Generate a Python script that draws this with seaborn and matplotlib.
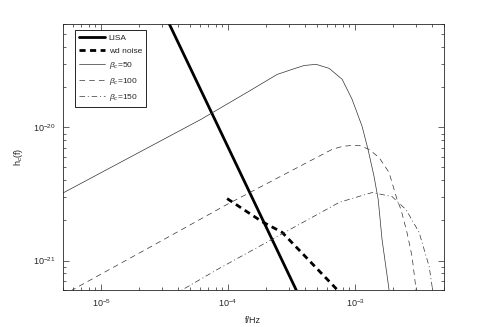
import numpy as np
import seaborn as sns
import matplotlib.pyplot as plt
from matplotlib.ticker import NullFormatter

# ------------------------------- DONNEES -------------------------------
# sensibilite LISA (droite en f^-2)
lisa_f = [1.0e-5, 1.0e-3]
lisa_h = [7.1e-19, 7.1e-23]

# bruit des naines blanches
wd_f = [9.82e-5, 1.85e-4, 2.66e-4, 4.35e-4, 7.21e-4]
wd_h = [2.92e-21, 1.96e-21, 1.63e-21, 1.0e-21, 6.05e-22]

# beta_c = 50
b50_f = [4.93e-6, 6.12e-5, 1.46e-4, 2.43e-4, 3.19e-4, 3.97e-4, 4.93e-4, 6.24e-4,
         7.91e-4, 9.46e-4, 1.135e-3, 1.264e-3, 1.41e-3, 1.52e-3, 1.63e-3, 1.85e-3, 1.95e-3]
b50_h = [3.19e-21, 1.15e-20, 1.87e-20, 2.50e-20, 2.73e-20, 2.92e-20, 2.98e-20, 2.78e-20,
         2.30e-20, 1.63e-20, 1.02e-20, 6.84e-21, 4.28e-21, 2.88e-21, 1.44e-21, 6.05e-22, 4.5e-22]

# beta_c = 100
b100_f = [4.93e-6, 2.39e-5, 9.82e-5, 6.59e-4, 7.91e-4, 9.46e-4, 1.074e-3, 1.288e-3,
          1.545e-3, 1.85e-3, 2.14e-3, 2.30e-3, 2.56e-3, 2.81e-3, 3.02e-3, 3.1e-3]
b100_h = [5.45e-22, 1.25e-21, 2.64e-21, 6.84e-21, 7.20e-21, 7.33e-21, 7.33e-21, 6.84e-21,
          5.94e-21, 4.59e-21, 2.88e-21, 2.41e-21, 1.63e-21, 1.07e-21, 6.05e-22, 5.0e-22]

# beta_c = 150
b150_f = [3.76e-5, 8.49e-5, 7.48e-4, 8.97e-4, 1.36e-3, 1.95e-3, 2.52e-3, 3.19e-3,
          3.83e-3, 4.04e-3, 4.1e-3]
b150_h = [5.55e-22, 8.71e-22, 2.73e-21, 2.88e-21, 3.24e-21, 3.03e-21, 2.41e-21, 1.63e-21,
          9.01e-22, 6.38e-22, 5.5e-22]

x_ticks = [1e-5, 1e-4, 1e-3]
y_ticks = [1e-21, 1e-20]

# ------------------------------- AFFICHAGE -----------------------------
sns.set_style("ticks")
plt.rcParams['font.family'] = ['Liberation Sans', 'DejaVu Sans']
plt.rcParams['mathtext.fontset'] = 'custom'
plt.rcParams['mathtext.rm'] = 'Liberation Sans'
plt.rcParams['mathtext.it'] = 'Liberation Sans:italic'

fig = plt.figure(figsize=(4.91, 3.27), dpi=100)
ax = fig.add_axes([0.128, 0.113, 0.776, 0.814])

sns.lineplot(x=lisa_f, y=lisa_h, ax=ax, color='black', linewidth=2.0, label='LISA')
sns.lineplot(x=wd_f, y=wd_h, ax=ax, color='black', linewidth=2.0, linestyle=(0, (2.2, 1.6)), label='wd noise')
sns.lineplot(x=b50_f, y=b50_h, ax=ax, color='#333333', linewidth=0.5, label=r'$\beta_c$=50')
sns.lineplot(x=b100_f, y=b100_h, ax=ax, color='#333333', linewidth=0.5, linestyle=(0, (8, 6)), label=r'$\beta_c$=100')
sns.lineplot(x=b150_f, y=b150_h, ax=ax, color='#333333', linewidth=0.5, linestyle=(0, (8, 4, 1.5, 4)), label=r'$\beta_c$=150')

ax.set_xscale('log')
ax.set_yscale('log')
ax.set_xlim(5e-6, 5e-3)
ax.set_ylim(6e-22, 6e-20)
ax.set_xticks(x_ticks)
ax.set_yticks(y_ticks)
ax.xaxis.set_minor_formatter(NullFormatter())
ax.yaxis.set_minor_formatter(NullFormatter())

ax.set_xlabel('f/Hz', fontsize=6.5, labelpad=5)
ax.set_ylabel(r'h$_c$(f)', fontsize=6.5, labelpad=6)
ax.tick_params(which='both', direction='in', top=True, right=True, labelsize=6.5, width=0.5, pad=5)
ax.tick_params(which='major', length=4)
ax.tick_params(which='minor', length=2)
for s in ax.spines.values():
    s.set_linewidth(0.6)

leg = ax.legend(loc='upper left', bbox_to_anchor=(0.031, 0.977), borderaxespad=0,
                fontsize=6, frameon=True, fancybox=False, edgecolor='black',
                framealpha=1, handlelength=3.2, labelspacing=0.6, borderpad=0.5,
                handletextpad=0.4)
leg.get_frame().set_linewidth(0.6)

fig.savefig('out.png', dpi=100)
